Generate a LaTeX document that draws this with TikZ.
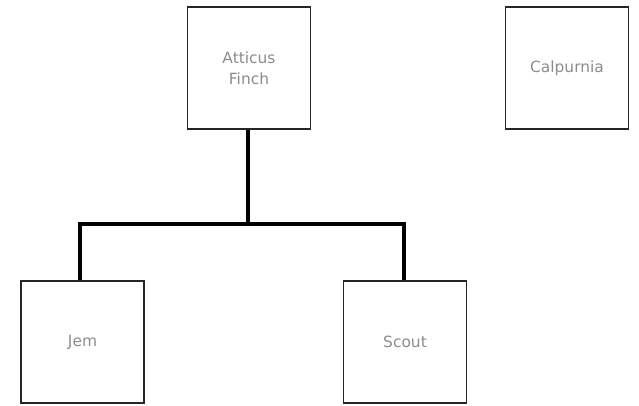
\documentclass[tikz,border=0pt]{standalone}
\usepackage{fontspec}
\setmainfont{DejaVu Sans}
\begin{document}
\begin{tikzpicture}[x=1bp,y=-1bp,
  person/.style={draw=black!85, line width=1.6bp, fill=white, minimum width=123bp, minimum height=122bp,
    inner sep=0pt, align=center, text=black!45, font=\fontsize{15.5}{21.5}\selectfont},
  link/.style={line width=3.2bp, black}]
\useasboundingbox[fill=white] (0,0) rectangle (639,405);
\node[person] (atticus) at (249,68) {Atticus\\Finch};
\node[person] (calpurnia) at (567,68) {Calpurnia};
\node[person] (jem) at (82.5,342) {Jem};
\node[person] (scout) at (405,342) {Scout};
\coordinate (mid) at (248,224);
\draw[link] (atticus.south -| mid) -- (mid);
\draw[link] (jem.north -| 80,0) |- (mid) -| (scout.north -| 404,0);
\end{tikzpicture}
\end{document}
